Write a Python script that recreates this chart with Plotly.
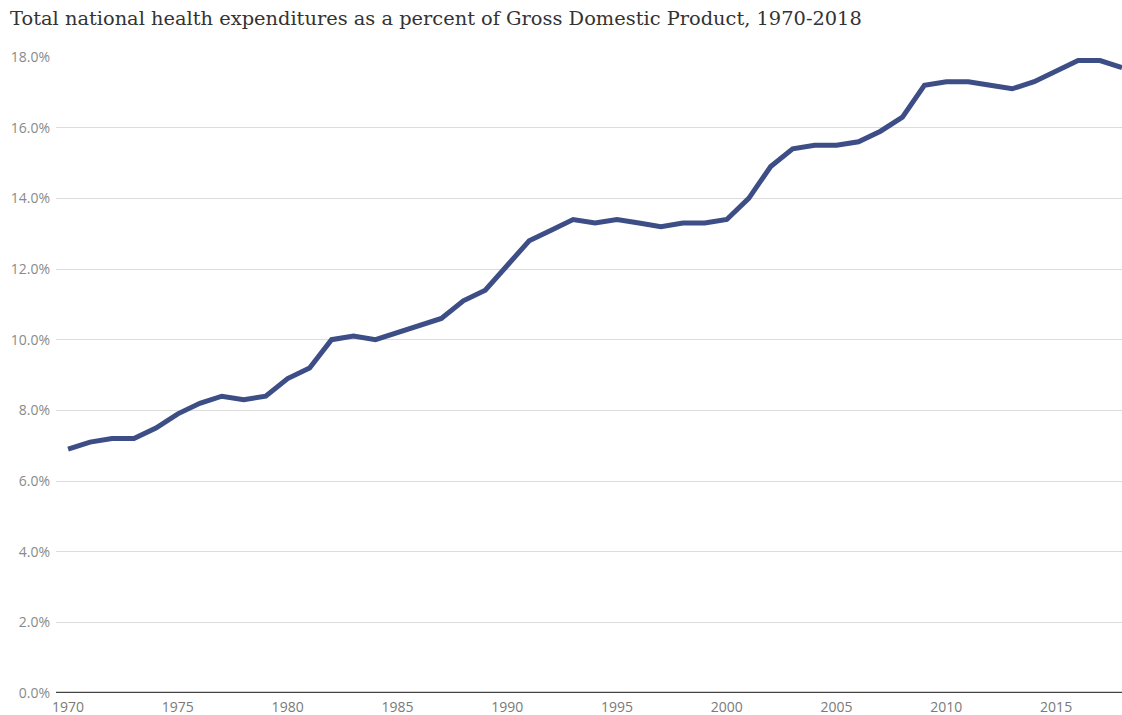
import plotly.graph_objects as go

# National health expenditures as a share of GDP (%), 1970-2018
years = list(range(1970, 2019))
nhe_pct_gdp = [
    6.9, 7.1, 7.2, 7.2, 7.5, 7.9, 8.2, 8.4, 8.3, 8.4,
    8.9, 9.2, 10.0, 10.1, 10.0, 10.2, 10.4, 10.6, 11.1, 11.4,
    12.1, 12.8, 13.1, 13.4, 13.3, 13.4, 13.3, 13.2, 13.3, 13.3,
    13.4, 14.0, 14.9, 15.4, 15.5, 15.5, 15.6, 15.9, 16.3, 17.2,
    17.3, 17.3, 17.2, 17.1, 17.3, 17.6, 17.9, 17.9, 17.7,
]
x_ticks = [1970, 1975, 1980, 1985, 1990, 1995, 2000, 2005, 2010, 2015]
y_ticks = [0, 2, 4, 6, 8, 10, 12, 14, 16, 18]
title_text = "Total national health expenditures as a percent of Gross Domestic Product, 1970-2018"

fig = go.Figure()
fig.add_trace(go.Scatter(
    x=years, y=nhe_pct_gdp, mode="lines",
    line=dict(color="#3d4d86", width=5),
    hoverinfo="x+y", showlegend=False,
))

# dark baseline at 0%
fig.add_shape(type="line", xref="paper", yref="y", x0=0, x1=1, y0=0, y1=0,
              line=dict(color="#444444", width=2.5), layer="above")

fig.update_layout(
    width=1122, height=715,
    margin=dict(l=56, r=0, t=57, b=22),
    paper_bgcolor="white", plot_bgcolor="white",
    title=dict(text=title_text, x=0.009, xanchor="left", y=0.974, yanchor="middle",
               font=dict(family="DejaVu Serif", size=19.4, color="#333333")),
    xaxis=dict(range=[1969.45, 2018], tickvals=x_ticks, ticktext=[str(v) for v in x_ticks],
               showgrid=False, zeroline=False, showline=False, ticks="",
               ticklabelstandoff=4,
               tickfont=dict(family="Open Sans", size=14, color="#7a7a7a")),
    yaxis=dict(range=[0, 18], tickvals=y_ticks, ticktext=[f"{v:.1f}%" for v in y_ticks],
               showgrid=True, gridcolor="#dcdcdc", gridwidth=1, zeroline=False,
               showline=False, ticks="", ticklabelstandoff=5,
               tickfont=dict(family="Open Sans", size=14, color="#8a8a8a")),
)

fig.write_html("out.html")
